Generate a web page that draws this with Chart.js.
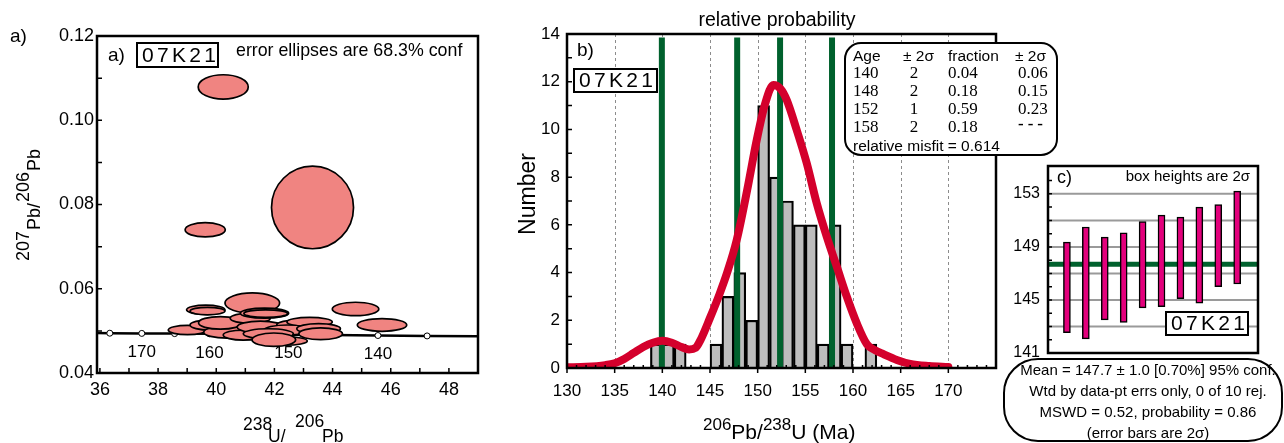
<!DOCTYPE html>
<html>
<head>
<meta charset="utf-8">
<script src="https://cdn.jsdelivr.net/npm/chart.js@4.4.0/dist/chart.umd.min.js"></script>
<style>
  html, body { margin: 0; padding: 0; background: #fff; }
  #wrap { position: relative; width: 1284px; height: 443px; overflow: hidden; }
  canvas { position: absolute; left: 0; top: 0; }
</style>
</head>
<body>
<div id="wrap">
  <canvas id="chartA" width="1284" height="443"></canvas>
  <canvas id="chartB" width="1284" height="443"></canvas>
  <canvas id="chartC" width="1284" height="443"></canvas>
</div>
<script>
// ---------- a) concordia plot ----------
var ellX  = [39.01, 39.79, 40.37, 40.93, 40.14, 39.64, 39.70, 41.24, 41.17, 41.52, 41.66, 41.70, 42.83, 43.21, 42.44, 43.52, 41.79, 43.59, 42.38, 41.98, 44.79, 45.70, 39.62, 43.31, 40.24];
var ellY  = [0.0502, 0.0514, 0.0497, 0.0490, 0.0519, 0.0550, 0.0547, 0.0566, 0.0530, 0.0509, 0.0542, 0.0541, 0.0514, 0.0521, 0.0502, 0.0505, 0.0493, 0.0493, 0.0476, 0.0479, 0.0552, 0.0514, 0.0740, 0.0793, 0.1079];
var ellRx = [0.66, 0.69, 0.80, 0.69, 0.75, 0.66, 0.60, 0.94, 0.69, 0.80, 0.83, 0.75, 0.75, 0.78, 0.80, 0.75, 0.86, 0.75, 0.75, 0.75, 0.80, 0.85, 0.69, 1.41, 0.86];
var ellRy = [0.0011, 0.0012, 0.0014, 0.0012, 0.0015, 0.0011, 0.0009, 0.0024, 0.0012, 0.0014, 0.0012, 0.0009, 0.0012, 0.0011, 0.0012, 0.0012, 0.0012, 0.0014, 0.0010, 0.0016, 0.0016, 0.0015, 0.0017, 0.0098, 0.0029];

var concAges = [null, 175, 170, 165, 160, 155, 150, 145, 140, 135, null];
var concX    = [35.9, 36.34, 37.44, 38.57, 39.77, 41.06, 42.48, 43.97, 45.56, 47.25, 49.0];
var concY    = [0.04948, 0.04945, 0.0494, 0.04935, 0.0493, 0.0492, 0.0491, 0.0490, 0.0489, 0.0488, 0.0487];
var concLabelAges = [170, 160, 150, 140];

var xLabelsA = [36, 38, 40, 42, 44, 46, 48];
var yLabelsA = [0.04, 0.06, 0.08, 0.10, 0.12];
var xTicksA  = [36, 37, 38, 39, 40, 41, 42, 43, 44, 45, 46, 47, 48];
var yTicksA  = [0.05, 0.06, 0.07, 0.08, 0.09, 0.10, 0.11];

// ---------- b) histogram + relative probability ----------
var binCenters = [139.375, 140.625, 141.875, 145.625, 146.875, 148.125, 149.375, 150.625, 151.875, 153.125, 154.375, 155.625, 156.875, 158.125, 159.375, 161.875];
var binCounts  = [1, 1, 1, 1, 3, 4, 2, 11, 8, 7, 6, 6, 1, 6, 1, 1];

var probX = [130, 132, 134, 135, 136, 137, 138, 139, 140, 141, 142, 142.8, 143.5, 144, 145, 146, 146.8, 147.8, 148.9, 149.9, 150.8, 151.65, 152.4, 153.05, 154.1, 155.15, 156.2, 157.25, 158.3, 159.35, 160.4, 161.45, 162.3, 163.2, 164.6, 166, 168, 170];
var probY = [0.03, 0.05, 0.12, 0.2, 0.38, 0.63, 0.88, 1.06, 1.14, 1.06, 0.88, 0.78, 0.85, 1.17, 2.1, 3.1, 4.0, 5.36, 7.46, 9.55, 11.1, 11.86, 11.7, 11.23, 9.97, 8.58, 6.9, 5.5, 4.25, 2.99, 1.87, 1.0, 0.75, 0.58, 0.34, 0.17, 0.08, 0.04];

var mixAges = [139.95, 147.85, 152.35, 157.8];
var mixTop = 13.85;

var tblAge     = ['140', '148', '152', '158'];
var tblAgeErr  = ['2', '2', '1', '2'];
var tblFrac    = ['0.04', '0.18', '0.59', '0.18'];
var tblFracErr = ['0.06', '0.15', '0.23', '---'];

var xLabelsB = [130, 135, 140, 145, 150, 155, 160, 165, 170];
var yLabelsB = [0, 2, 4, 6, 8, 10, 12, 14];
var xGridB   = [135, 140, 145, 150, 155, 160, 165, 170];
var yTicksB  = [1, 2, 3, 4, 5, 6, 7, 8, 9, 10, 11, 12, 13];
var xMinorB  = [131, 132, 133, 134, 136, 137, 138, 139, 141, 142, 143, 144, 146, 147, 148, 149, 151, 152, 153, 154, 156, 157, 158, 159, 161, 162, 163, 164, 166, 167, 168, 169, 171, 172, 173, 174];

// ---------- c) weighted mean ----------
var wmIndex = [1, 2, 3, 4, 5, 6, 7, 8, 9, 10];
var wmLow   = [142.54, 142.06, 143.5, 143.3, 144.4, 144.5, 145.1, 144.76, 146.0, 146.2];
var wmHigh  = [149.36, 150.5, 149.74, 150.07, 150.9, 151.4, 151.25, 152.0, 152.2, 153.2];
var wmMean  = 147.7;
var wmSpan  = [0, 11.1];

var yLabelsC = [141, 145, 149, 153];
var yGridC   = [143, 145, 147, 149, 151, 153];
var yTicksC  = [142, 143, 144, 145, 146, 147, 148, 149, 150, 151, 152, 153, 154];

var SANS = "'Liberation Sans', Arial, Helvetica, sans-serif";
var SERIF = "'Liberation Serif', 'Times New Roman', serif";
var GREEN = '#00612d';

// ---------- helpers ----------
function put(ctx, s, x, y, size, opt) {
  opt = opt || {};
  ctx.save();
  ctx.font = (opt.weight ? opt.weight + ' ' : '') + size + 'px ' + (opt.family || SANS);
  ctx.fillStyle = '#000';
  ctx.textAlign = opt.align || 'left';
  ctx.textBaseline = opt.baseline || 'alphabetic';
  if (opt.spacing) ctx.letterSpacing = opt.spacing + 'px';
  ctx.fillText(s, x, y);
  ctx.restore();
}

// pieces: [text, size, baselineY]
function putRun(ctx, pieces, x) {
  ctx.save();
  ctx.fillStyle = '#000';
  ctx.textBaseline = 'alphabetic';
  pieces.forEach(function (p) {
    ctx.font = p[1] + 'px ' + SANS;
    ctx.fillText(p[0], x, p[2]);
    x += ctx.measureText(p[0]).width;
  });
  ctx.restore();
}

function frame(ctx, a) {
  ctx.save();
  ctx.lineWidth = 2.5;
  ctx.strokeStyle = '#000';
  ctx.strokeRect(a.left, a.top, a.right - a.left, a.bottom - a.top);
  ctx.restore();
}

function ticksX(ctx, scale, vals, y, len) {
  ctx.save();
  ctx.lineWidth = 1.5;
  ctx.strokeStyle = '#000';
  ctx.beginPath();
  vals.forEach(function (v) {
    var p = scale.getPixelForValue(v);
    ctx.moveTo(p, y);
    ctx.lineTo(p, y + len);
  });
  ctx.stroke();
  ctx.restore();
}

function ticksY(ctx, scale, vals, x, len) {
  ctx.save();
  ctx.lineWidth = 1.5;
  ctx.strokeStyle = '#000';
  ctx.beginPath();
  vals.forEach(function (v) {
    var p = scale.getPixelForValue(v);
    ctx.moveTo(x, p);
    ctx.lineTo(x + len, p);
  });
  ctx.stroke();
  ctx.restore();
}

function sampleBox(ctx, x, y, w, h) {
  ctx.save();
  ctx.fillStyle = '#fff';
  ctx.fillRect(x, y, w, h);
  ctx.lineWidth = 2;
  ctx.strokeStyle = '#000';
  ctx.strokeRect(x, y, w, h);
  ctx.restore();
  put(ctx, '07K21', x + 5, y + h / 2 + 1, 21, { baseline: 'middle', spacing: 3.3 });
}

function roundBox(ctx, x, y, w, h, r) {
  ctx.save();
  ctx.beginPath();
  ctx.moveTo(x + r, y);
  ctx.arcTo(x + w, y, x + w, y + h, r);
  ctx.arcTo(x + w, y + h, x, y + h, r);
  ctx.arcTo(x, y + h, x, y, r);
  ctx.arcTo(x, y, x + w, y, r);
  ctx.closePath();
  ctx.fillStyle = '#fff';
  ctx.fill();
  ctx.lineWidth = 2;
  ctx.strokeStyle = '#000';
  ctx.stroke();
  ctx.restore();
}

function fixedAxis(size, isX) {
  return function (s) { if (isX) { s.height = size; } else { s.width = size; } };
}

function useTicks(vals) {
  return function (s) { s.ticks = vals.map(function (v) { return { value: v }; }); };
}

var base = {
  animation: false,
  responsive: false,
  events: [],
  plugins: { legend: { display: false }, tooltip: { enabled: false } }
};

function opts(extra) {
  return Object.assign({}, base, extra);
}

// ---------- panel a ----------
var plugA = {
  id: 'panelA',
  afterDatasetsDraw: function (chart) {
    var ctx = chart.ctx, xs = chart.scales.x, ys = chart.scales.y, a = chart.chartArea;
    ctx.save();
    ctx.beginPath();
    ctx.rect(a.left, a.top, a.right - a.left, a.bottom - a.top);
    ctx.clip();
    ellX.forEach(function (x, i) {
      var cx = xs.getPixelForValue(x), cy = ys.getPixelForValue(ellY[i]);
      var rx = Math.abs(xs.getPixelForValue(x + ellRx[i]) - cx);
      var ry = Math.abs(ys.getPixelForValue(ellY[i] + ellRy[i]) - cy);
      ctx.beginPath();
      ctx.ellipse(cx, cy, rx, ry, 0, 0, Math.PI * 2);
      ctx.fillStyle = '#f08481';
      ctx.fill();
      ctx.lineWidth = 1.7;
      ctx.strokeStyle = '#000';
      ctx.stroke();
    });
    ctx.restore();
    concLabelAges.forEach(function (age) {
      var i = concAges.indexOf(age);
      put(ctx, String(age), xs.getPixelForValue(concX[i]), ys.getPixelForValue(concY[i]) + 19, 17,
        { align: 'center', baseline: 'middle' });
    });
  },
  afterDraw: function (chart) {
    var ctx = chart.ctx, a = chart.chartArea;
    frame(ctx, a);
    ticksX(ctx, chart.scales.x, xTicksA, a.bottom, -5);
    ticksY(ctx, chart.scales.y, yTicksA, a.left, 5);
    put(ctx, 'a)', 10, 37, 19, { baseline: 'middle' });
    put(ctx, 'a)', 108, 56, 19, { baseline: 'middle' });
    sampleBox(ctx, 137, 43, 81, 24);
    put(ctx, 'error ellipses are 68.3% conf', 236, 51, 17.8, { baseline: 'middle' });
    // y title, rotated
    ctx.save();
    ctx.rotate(-Math.PI / 2);
    var u = -261;
    [['207', 29], ['Pb/', 40], ['206', 29], ['Pb', 40]].forEach(function (p) {
      ctx.font = '18px ' + SANS;
      ctx.fillStyle = '#000';
      ctx.fillText(p[0], u, p[1]);
      u += ctx.measureText(p[0]).width + 1;
    });
    ctx.restore();
    // x title
    put(ctx, '238', 243, 430, 17.5);
    put(ctx, 'U/', 268, 441.5, 17.5);
    put(ctx, '206', 295, 427, 17.5);
    put(ctx, 'Pb', 322, 441.5, 17.5);
  }
};

new Chart(document.getElementById('chartA'), {
  type: 'scatter',
  data: {
    datasets: [
      {
        data: concX.map(function (x, i) { return { x: x, y: concY[i] }; }),
        showLine: true,
        borderColor: '#000',
        borderWidth: 2.5,
        pointRadius: concAges.map(function (a) { return a ? 3 : 0; }),
        pointBackgroundColor: '#fff',
        pointBorderColor: '#000',
        pointBorderWidth: 1
      },
      {
        // ellipse centres; the ellipses themselves are drawn by plugA
        data: ellX.map(function (x, i) { return { x: x, y: ellY[i] }; }),
        pointRadius: 0
      }
    ]
  },
  options: opts({
    layout: { padding: { left: 0, top: 36, right: 806, bottom: 0 } },
    scales: {
      x: {
        type: 'linear', min: 35.9, max: 49,
        grid: { display: false, drawTicks: false }, border: { display: false },
        afterBuildTicks: useTicks(xLabelsA), afterFit: fixedAxis(70, true),
        ticks: { font: { family: SANS, size: 18 }, color: '#000', padding: 6, autoSkip: false, maxRotation: 0 }
      },
      y: {
        type: 'linear', min: 0.04, max: 0.12,
        grid: { display: false, drawTicks: false }, border: { display: false },
        afterBuildTicks: useTicks(yLabelsA), afterFit: fixedAxis(97, false),
        ticks: { font: { family: SANS, size: 18 }, color: '#000', padding: 3, autoSkip: false,
          callback: function (v) { return v.toFixed(2); } }
      }
    }
  }),
  plugins: [plugA]
});

// ---------- panel b ----------
var plugB = {
  id: 'panelB',
  beforeDatasetsDraw: function (chart) {
    var ctx = chart.ctx, a = chart.chartArea, xs = chart.scales.x;
    ctx.save();
    ctx.strokeStyle = '#8c8c8c';
    ctx.lineWidth = 1;
    ctx.setLineDash([3, 3]);
    ctx.beginPath();
    xGridB.forEach(function (v) {
      var p = Math.round(xs.getPixelForValue(v)) + 0.5;
      ctx.moveTo(p, a.top);
      ctx.lineTo(p, a.bottom);
    });
    ctx.stroke();
    ctx.restore();
  },
  afterDraw: function (chart) {
    var ctx = chart.ctx, a = chart.chartArea;
    frame(ctx, a);
    ticksY(ctx, chart.scales.y, yTicksB, a.left, 5);
    ticksX(ctx, chart.scales.x, xLabelsB, a.bottom, 5);
    ticksX(ctx, chart.scales.x, xMinorB, a.bottom, -3);
    put(ctx, 'relative probability', 777, 21, 19.5, { align: 'center', baseline: 'middle' });
    put(ctx, 'b)', 577, 51, 19, { baseline: 'middle' });
    sampleBox(ctx, 574, 69, 83, 23);
    // y title
    ctx.save();
    ctx.translate(535, 194);
    ctx.rotate(-Math.PI / 2);
    ctx.font = '23px ' + SANS;
    ctx.fillStyle = '#000';
    ctx.textAlign = 'center';
    ctx.fillText('Number', 0, 0);
    ctx.restore();
    // x title
    putRun(ctx, [['206', 17, 430], ['Pb/', 21, 439], ['238', 17, 430], ['U (Ma)', 21, 439]], 703);
    // mixture table
    roundBox(ctx, 845, 43, 212, 112, 16);
    put(ctx, 'Age', 853, 61, 15.5);
    put(ctx, '\u00b1 2\u03c3', 903, 61, 15.5);
    put(ctx, 'fraction', 948, 61, 15.5);
    put(ctx, '\u00b1 2\u03c3', 1015, 61, 15.5);
    tblAge.forEach(function (s, i) {
      var y = 78 + i * 18;
      put(ctx, s, 853, y, 17, { family: SERIF });
      put(ctx, tblAgeErr[i], 914, y, 17, { family: SERIF, align: 'center' });
      put(ctx, tblFrac[i], 948, y, 17, { family: SERIF });
      if (tblFracErr[i] === '---') {
        put(ctx, tblFracErr[i], 1018, y - 3, 17, { family: SERIF, weight: 700, spacing: 4 });
      } else {
        put(ctx, tblFracErr[i], 1018, y, 17, { family: SERIF });
      }
    });
    put(ctx, 'relative misfit = 0.614', 853, 151, 15.5);
  }
};

var dsB = [
  {
    type: 'line', order: 0,
    data: probX.map(function (x, i) { return { x: x, y: probY[i] }; }),
    borderColor: '#d4002c', borderWidth: 8, pointRadius: 0,
    tension: 0.4, cubicInterpolationMode: 'monotone', borderJoinStyle: 'round', borderCapStyle: 'round'
  }
];
mixAges.forEach(function (age) {
  dsB.push({
    type: 'line', order: 1,
    data: [{ x: age, y: 0 }, { x: age, y: mixTop }],
    borderColor: GREEN, borderWidth: 6, pointRadius: 0
  });
});
dsB.push({
  type: 'bar', order: 2,
  data: binCenters.map(function (x, i) { return { x: x, y: binCounts[i] }; }),
  backgroundColor: '#bdbdbd', borderColor: '#000', borderWidth: 2.2,
  barPercentage: 1, categoryPercentage: 1
});

new Chart(document.getElementById('chartB'), {
  type: 'bar',
  data: { datasets: dsB },
  options: opts({
    layout: { padding: { left: 500, top: 34, right: 288, bottom: 0 } },
    scales: {
      x: {
        type: 'linear', min: 130, max: 175, offset: false,
        grid: { display: false, drawTicks: false, offset: false }, border: { display: false },
        afterBuildTicks: useTicks(xLabelsB), afterFit: fixedAxis(75, true),
        ticks: { font: { family: SANS, size: 17 }, color: '#000', padding: 13, autoSkip: false, maxRotation: 0 }
      },
      y: {
        type: 'linear', min: 0, max: 14,
        grid: { display: false, drawTicks: false }, border: { display: false },
        afterBuildTicks: useTicks(yLabelsB), afterFit: fixedAxis(67, false),
        ticks: { font: { family: SANS, size: 17 }, color: '#000', padding: 7, autoSkip: false }
      }
    }
  }),
  plugins: [plugB]
});

// ---------- panel c ----------
var plugC = {
  id: 'panelC',
  beforeDatasetsDraw: function (chart) {
    var ctx = chart.ctx, a = chart.chartArea, ys = chart.scales.y;
    ctx.save();
    ctx.strokeStyle = '#9a9a9a';
    ctx.lineWidth = 2;
    ctx.beginPath();
    yGridC.forEach(function (v) {
      var p = ys.getPixelForValue(v);
      ctx.moveTo(a.left, p);
      ctx.lineTo(a.right, p);
    });
    ctx.stroke();
    ctx.restore();
  },
  afterDraw: function (chart) {
    var ctx = chart.ctx, a = chart.chartArea;
    frame(ctx, a);
    ticksY(ctx, chart.scales.y, yTicksC, a.left, 4);
    put(ctx, 'c)', 1057, 178, 18, { baseline: 'middle' });
    put(ctx, 'box heights are 2\u03c3', 1250, 177, 15, { align: 'right', baseline: 'middle' });
    sampleBox(ctx, 1166, 312, 82, 23);
    roundBox(ctx, 1004, 359, 278, 82, 34);
    var lines = [
      'Mean = 147.7 \u00b1 1.0 [0.70%] 95% conf.',
      'Wtd by data-pt errs only, 0 of 10 rej.',
      'MSWD = 0.52, probability = 0.86',
      '(error bars are 2\u03c3)'
    ];
    lines.forEach(function (s, i) {
      put(ctx, s, 1148, 371 + i * 20.8, 15, { align: 'center', baseline: 'middle' });
    });
  }
};

new Chart(document.getElementById('chartC'), {
  type: 'bar',
  data: {
    datasets: [
      {
        type: 'bar', order: 1,
        data: wmIndex.map(function (x, i) { return { x: x, y: [wmLow[i], wmHigh[i]] }; }),
        backgroundColor: '#e3007c', borderColor: '#000', borderWidth: 1.5,
        borderSkipped: false, barThickness: 7
      },
      {
        type: 'line', order: 2,
        data: wmSpan.map(function (x) { return { x: x, y: wmMean }; }),
        borderColor: GREEN, borderWidth: 5, pointRadius: 0
      }
    ]
  },
  options: opts({
    layout: { padding: { left: 1000, top: 166, right: 26, bottom: 90 } },
    scales: {
      x: {
        type: 'linear', min: wmSpan[0], max: wmSpan[1], offset: false, display: false,
        grid: { display: false, offset: false }
      },
      y: {
        type: 'linear', min: 141, max: 155.1,
        grid: { display: false, drawTicks: false }, border: { display: false },
        afterBuildTicks: useTicks(yLabelsC), afterFit: fixedAxis(48, false),
        ticks: { font: { family: SANS, size: 16 }, color: '#000', padding: 8, autoSkip: false }
      }
    }
  }),
  plugins: [plugC]
});
</script>
</body>
</html>
